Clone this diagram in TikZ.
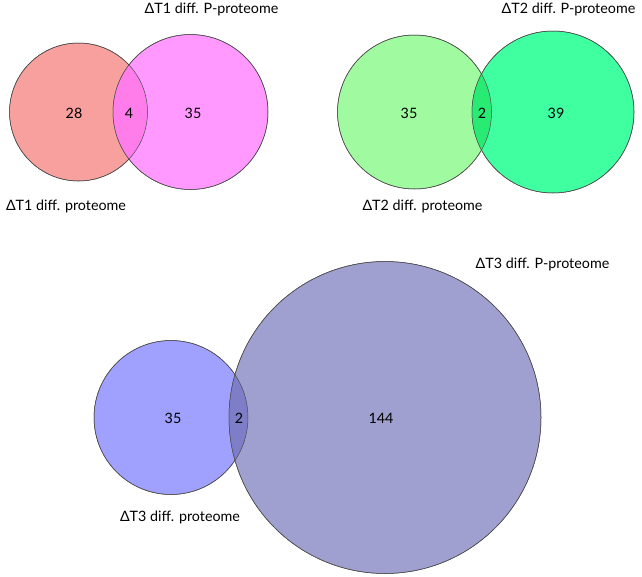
\documentclass[tikz,border=0pt]{standalone}
\usepackage{fontspec}
\setmainfont{Lato}
\usetikzlibrary{positioning}
\definecolor{tonered}{RGB}{248,160,158}
\definecolor{tonemagenta}{RGB}{255,153,255}
\definecolor{tonemix1}{RGB}{255,125,235}
\definecolor{tonelime}{RGB}{160,250,160}
\definecolor{tonemint}{RGB}{64,255,160}
\definecolor{tonemix2}{RGB}{40,235,115}
\definecolor{toneblue}{RGB}{160,160,255}
\definecolor{toneslate}{RGB}{160,160,208}
\definecolor{tonemix3}{RGB}{125,125,200}
\tikzset{
  venn/.style={circle,draw=black!70,line width=0.5pt,inner sep=0pt,minimum size=#1},
  rim/.style={draw=black!70,line width=0.5pt},
  count/.style={inner sep=0pt,font=\fontsize{14.3}{16}\selectfont},
  setname/.style={inner sep=0pt,font=\fontsize{14.3}{16}\selectfont}
}

\begin{document}
\begin{tikzpicture}[x=1pt,y=-1pt]
\useasboundingbox (0,0) rectangle (642,576);
% delta T1
\node[venn=138pt, fill=tonered] (protA) at (78.5,112) {};
\node[venn=155pt, fill=tonemagenta] (phosA) at (190.5,112) {};
\begin{scope}
  \clip (protA.center) circle[radius=69pt];
  \fill[tonemix1] (phosA.center) circle[radius=77.5pt];
\end{scope}
\draw[rim] (protA.center) circle[radius=69pt];
\draw[rim] (phosA.center) circle[radius=77.5pt];
\node[count] (onlyA) at (74,113) {28};
\node[count] (bothA) at (129,113) {4};
\node[count] (restA) at (193,113) {35};
\node[setname] (nameA) at (211.5,9.5) {ΔT1 diff. P-proteome};
\node[setname] (nameAp) at (66,206) {ΔT1 diff. proteome};
% delta T2
\node[venn=154pt, fill=tonelime] (protB) at (414.5,112) {};
\node[venn=162pt, fill=tonemint] (phosB) at (553,112) {};
\begin{scope}
  \clip (protB.center) circle[radius=77pt];
  \fill[tonemix2] (phosB.center) circle[radius=81pt];
\end{scope}
\draw[rim] (protB.center) circle[radius=77pt];
\draw[rim] (phosB.center) circle[radius=81pt];
\node[count] (onlyB) at (409,113) {35};
\node[count] (bothB) at (482,113) {2};
\node[count] (restB) at (556,113) {39};
\node[setname] (nameB) at (568.5,9.5) {ΔT2 diff. P-proteome};
\node[setname] (nameBp) at (422.5,206) {ΔT2 diff. proteome};
% delta T3
\node[venn=154pt, fill=toneblue] (protC) at (171,417.5) {};
\node[venn=312pt, fill=toneslate] (phosC) at (385,417.5) {};
\begin{scope}
  \clip (protC.center) circle[radius=77pt];
  \fill[tonemix3] (phosC.center) circle[radius=156pt];
\end{scope}
\draw[rim] (protC.center) circle[radius=77pt];
\draw[rim] (phosC.center) circle[radius=156pt];
\node[count] (onlyC) at (173,418) {35};
\node[count] (bothC) at (239,418) {2};
\node[count] (restC) at (381,418) {144};
\node[setname] (nameC) at (542.5,264) {ΔT3 diff. P-proteome};
\node[setname] (nameCp) at (180,517) {ΔT3 diff. proteome};
\end{tikzpicture}
\end{document}
